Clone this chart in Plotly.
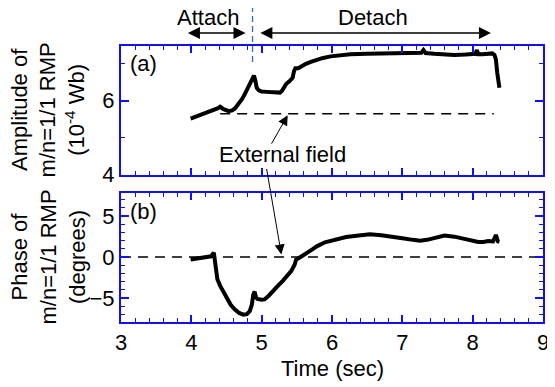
import plotly.graph_objects as go
from plotly.subplots import make_subplots

# ---------------- data ----------------
amp_time = [3.99, 4.10, 4.20, 4.30, 4.34, 4.38, 4.41, 4.45, 4.53, 4.58, 4.62, 4.68, 4.72, 4.76,
            4.80, 4.84, 4.87, 4.89, 4.91, 4.93, 4.96, 5.00, 5.07, 5.15, 5.22, 5.26, 5.29, 5.32,
            5.35, 5.39, 5.44, 5.46, 5.48, 5.52, 5.57, 5.63, 5.70, 5.78, 5.86, 5.98, 6.10, 6.26,
            6.50, 6.75, 6.91, 7.05, 7.20, 7.27, 7.30, 7.33, 7.45, 7.60, 7.74, 7.90, 8.00, 8.04,
            8.06, 8.08, 8.14, 8.20, 8.28, 8.31, 8.33, 8.35, 8.37, 8.38]
amp_val = [5.52, 5.60, 5.66, 5.74, 5.76, 5.80, 5.84, 5.78, 5.72, 5.74, 5.79, 5.93, 6.04, 6.18,
           6.32, 6.45, 6.60, 6.68, 6.55, 6.35, 6.28, 6.25, 6.24, 6.23, 6.21, 6.22, 6.27, 6.36,
           6.46, 6.52, 6.62, 6.80, 6.88, 6.88, 6.94, 7.00, 7.05, 7.11, 7.15, 7.20, 7.23, 7.26,
           7.27, 7.28, 7.29, 7.29, 7.31, 7.30, 7.37, 7.29, 7.27, 7.25, 7.24, 7.25, 7.26, 7.27,
           7.37, 7.26, 7.26, 7.27, 7.28, 7.24, 7.12, 6.75, 6.50, 6.35]

phase_time = [3.99, 4.10, 4.20, 4.28, 4.32, 4.35, 4.37, 4.41, 4.46, 4.51, 4.56, 4.62, 4.68, 4.74,
              4.79, 4.83, 4.86, 4.88, 4.90, 4.92, 4.94, 5.00, 5.04, 5.10, 5.16, 5.23, 5.30, 5.36,
              5.42, 5.47, 5.49, 5.53, 5.58, 5.66, 5.72, 5.79, 5.90, 6.00, 6.07, 6.20, 6.35, 6.54,
              6.70, 6.91, 7.00, 7.15, 7.25, 7.35, 7.45, 7.60, 7.74, 7.87, 7.94, 8.00, 8.08, 8.15,
              8.22, 8.29, 8.33, 8.36, 8.38]
phase_val = [-0.28, -0.15, -0.05, 0.10, 0.54, -1.0, -2.7, -3.5, -4.3, -5.16, -5.8, -6.38, -6.8, -7.0,
             -6.95, -6.58, -5.8, -4.6, -4.2, -4.9, -5.1, -5.2, -5.15, -4.7, -4.1, -3.5, -2.9, -2.3,
             -1.7, -0.9, -0.3, -0.1, 0.12, 0.6, 0.95, 1.34, 1.8, 2.05, 2.24, 2.45, 2.6, 2.77,
             2.65, 2.49, 2.3, 2.1, 2.0, 2.1, 2.35, 2.62, 2.49, 2.25, 2.1, 1.95, 1.85, 1.85,
             1.95, 1.9, 2.7, 1.9, 1.85]

ext_amp_time = [4.41, 8.30]
ext_amp_val = [5.65, 5.65]
ext_phase_time = [3.0, 9.0]
ext_phase_val = [0.0, 0.0]

x_range = [3, 9]
amp_range = [4, 7.48]
phase_range = [-7.9, 7.8]
boundary_time = 4.87
attach_span = [3.93, 4.77]
detach_span = [4.96, 8.26]

# ---------------- layout constants ----------------
# the page body has an 8px default margin, so the figure is drawn 8px in and down
OFF = 8
W, H = 555 - OFF, 387 - OFF
ML, MR, MT, MB = 121 - OFF, 6, 46 - OFF, 387 - 322.5
top_dom = [(322.5 - 175) / (322.5 - 46), 1.0]
bot_dom = [0.0, (322.5 - 193.3) / (322.5 - 46)]

FONT = "Liberation Sans, Arial, sans-serif"
AX = "#1010f0"

fig = make_subplots(rows=2, cols=1, shared_xaxes=False, vertical_spacing=0.05)

fig.add_trace(go.Scatter(x=amp_time, y=amp_val, mode="lines",
                         line=dict(color="black", width=4), showlegend=False), row=1, col=1)
fig.add_trace(go.Scatter(x=ext_amp_time, y=ext_amp_val, mode="lines",
                         line=dict(color="black", width=1.5, dash="10px,7px"), showlegend=False), row=1, col=1)
fig.add_trace(go.Scatter(x=phase_time, y=phase_val, mode="lines",
                         line=dict(color="black", width=4), showlegend=False), row=2, col=1)
fig.add_trace(go.Scatter(x=ext_phase_time, y=ext_phase_val, mode="lines",
                         line=dict(color="black", width=1.5, dash="10px,7px"), showlegend=False), row=2, col=1)

common_x = dict(range=x_range, showline=True, linecolor=AX, linewidth=2, mirror="ticks",
                ticks="inside", ticklen=7, tickwidth=1.5, tickcolor=AX, dtick=1, tick0=0,
                showgrid=False, zeroline=False,
                minor=dict(dtick=0.2, ticklen=4, tickwidth=1, tickcolor=AX, ticks="inside", showgrid=False))
fig.update_xaxes(**common_x, showticklabels=False, row=1, col=1)
fig.update_xaxes(**common_x, showticklabels=True,
                 tickfont=dict(family=FONT, size=22, color="black"), row=2, col=1)

fig.update_yaxes(range=amp_range, domain=top_dom, showline=True, linecolor=AX, linewidth=2,
                 mirror="ticks", ticks="inside", ticklen=8, tickwidth=1.5, tickcolor=AX,
                 tickvals=[4, 6], ticktext=["4", "6"], showgrid=False, zeroline=False,
                 tickfont=dict(family=FONT, size=22, color="black"),
                 minor=dict(tickvals=[5, 7], ticklen=4, tickwidth=1, tickcolor=AX, ticks="inside", showgrid=False),
                 row=1, col=1)
fig.update_yaxes(range=phase_range, domain=bot_dom, showline=True, linecolor=AX, linewidth=2,
                 mirror="ticks", ticks="inside", ticklen=8, tickwidth=1.5, tickcolor=AX,
                 dtick=5, tick0=0, showgrid=False, zeroline=False,
                 tickfont=dict(family=FONT, size=22, color="black"),
                 minor=dict(dtick=1, ticklen=4, tickwidth=1, tickcolor=AX, ticks="inside", showgrid=False),
                 row=2, col=1)


def paper_y(px):
    """page pixel y (reference coords) -> paper fraction"""
    return (322.5 - px) / (322.5 - 46)


ann = []
tf = dict(family=FONT, size=22, color="black")
# y-axis titles
ann.append(dict(text="Amplitude of<br>m/n=1/1 RMP<br>(10<sup>-4</sup> Wb)", textangle=-90,
                xref="paper", x=0, xanchor="center", xshift=48 - 121,
                yref="paper", y=(top_dom[0] + top_dom[1]) / 2, yanchor="middle",
                showarrow=False, font=tf))
ann.append(dict(text="Phase of<br>m/n=1/1 RMP<br>(degrees)", textangle=-90,
                xref="paper", x=0, xanchor="center", xshift=48 - 121,
                yref="paper", y=(bot_dom[0] + bot_dom[1]) / 2, yanchor="middle",
                showarrow=False, font=tf))
# x title
ann.append(dict(text="Time (sec)", xref="x2", x=6, yref="paper", y=paper_y(369), yanchor="middle",
                showarrow=False, font=tf))
# panel labels
ann.append(dict(text="(a)", xref="x", x=3.1, xanchor="left", yref="y", y=7.0, yanchor="middle",
                showarrow=False, font=tf))
ann.append(dict(text="(b)", xref="x2", x=3.1, xanchor="left", yref="y2", y=5.57, yanchor="middle",
                showarrow=False, font=tf))
# Attach / Detach
ann.append(dict(text="Attach", xref="x", x=4.24, yref="paper", y=paper_y(17), yanchor="middle",
                showarrow=False, font=tf))
ann.append(dict(text="Detach", xref="x", x=6.58, yref="paper", y=paper_y(17), yanchor="middle",
                showarrow=False, font=tf))
for a, b in (attach_span, detach_span):
    ann.append(dict(text="", xref="x", x=b, yref="paper", y=paper_y(33),
                    axref="x", ax=a, ayref="pixel", ay=0, showarrow=True,
                    arrowside="end+start", arrowhead=2, startarrowhead=2,
                    arrowsize=1.6, startarrowsize=1.6, arrowwidth=1.5, arrowcolor="black"))
# External field
ann.append(dict(text="External field", xref="x", x=5.29, yref="y", y=4.54, yanchor="middle",
                showarrow=False, font=tf))
ann.append(dict(text="", xref="x", x=5.37, yref="y", y=5.61, ax=-17, ay=30,
                showarrow=True, arrowhead=2, arrowsize=2, arrowwidth=1, arrowcolor="black"))
ann.append(dict(text="", xref="x2", x=5.28, yref="y2", y=0.33, ax=-15, ay=-87,
                showarrow=True, arrowhead=2, arrowsize=2, arrowwidth=1, arrowcolor="black"))
fig.update_layout(annotations=ann)

# vertical dashed boundary line
fig.add_shape(type="line", xref="x", x0=boundary_time, x1=boundary_time,
              yref="paper", y0=paper_y(62), y1=paper_y(-8),
              line=dict(color="#3a62d8", width=1.3, dash="6px,4px"))

fig.update_layout(width=W, height=H, margin=dict(l=ML, r=MR, t=MT, b=MB),
                  paper_bgcolor="white", plot_bgcolor="white", showlegend=False,
                  font=dict(family=FONT, color="black"))

fig.write_html("out.html")
